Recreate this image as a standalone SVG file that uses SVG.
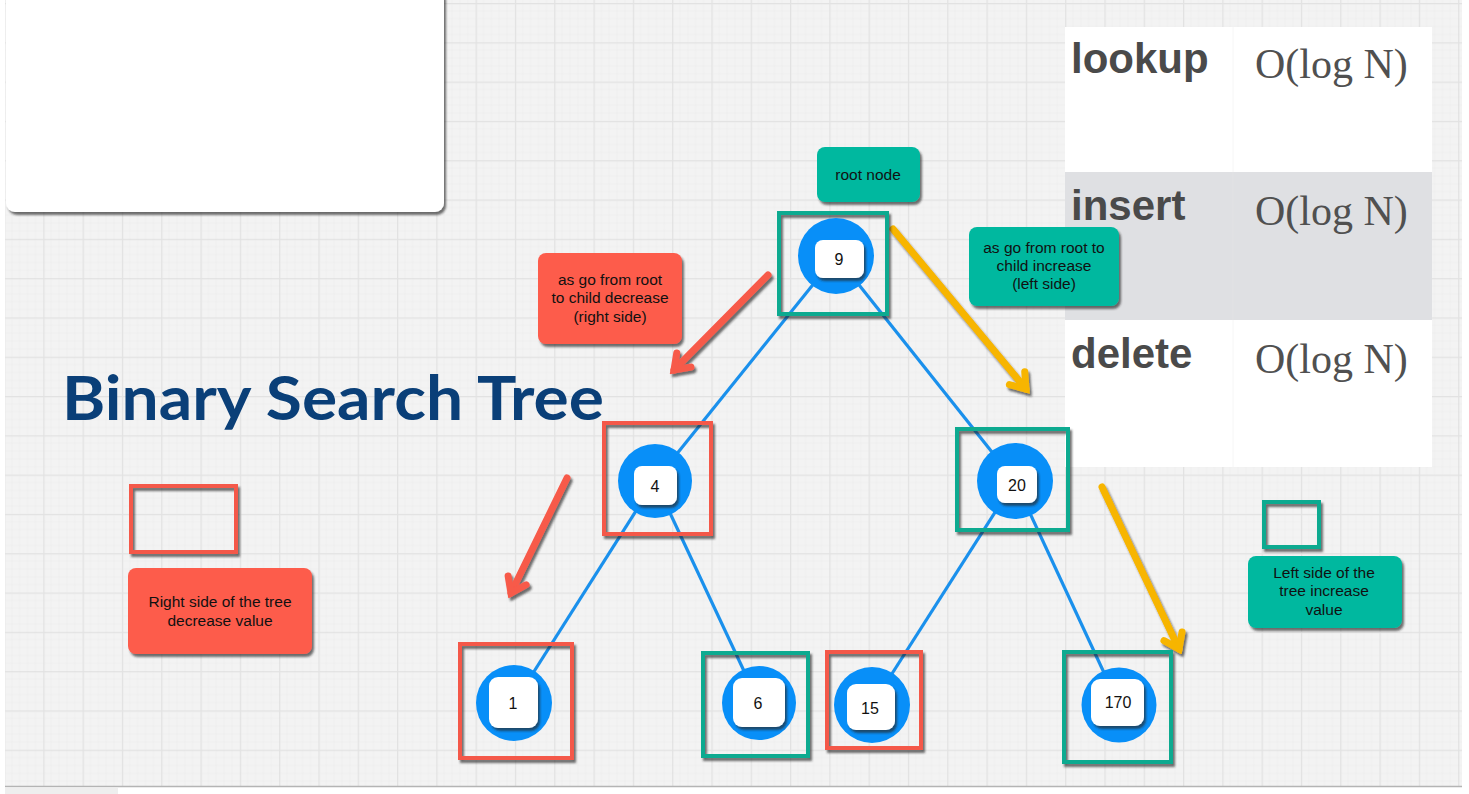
<svg xmlns="http://www.w3.org/2000/svg" width="1469" height="794" viewBox="0 0 1469 794">
<style>
.lbl{font-family:"Liberation Sans",Arial,sans-serif;font-size:15.5px;fill:#111;text-anchor:middle}
.num{font-family:"Liberation Sans",Arial,sans-serif;font-size:16px;fill:#111;text-anchor:middle;dominant-baseline:central}
.teal{fill:#00b89f}
.red{fill:#fd5b4c}
.frT{fill:none;stroke:#0aaa90;stroke-width:4}
.frR{fill:none;stroke:#f4584a;stroke-width:4}
.circ{fill:#088ff8}
.chip{fill:#fff}
.edge{stroke:#1a90ec;stroke-width:3.2;fill:none}
.arR{stroke:#f75a4a;stroke-width:7;fill:none;stroke-linecap:round}
.arY{stroke:#f7b500;stroke-width:7;fill:none;stroke-linecap:round}
.op{font-family:"Liberation Sans",Arial,sans-serif;font-weight:bold;font-size:42px;fill:#4a4a4a}
.cx{font-family:"Liberation Serif","Times New Roman",serif;font-size:42px;fill:#505050}
</style>
<defs>
<pattern id="grid" x="4" y="3" width="39.3" height="39.3" patternUnits="userSpaceOnUse">
<rect width="39.3" height="39.3" fill="#f3f3f3"/>
<path d="M0 7.86H39.3M0 15.72H39.3M0 23.58H39.3M0 31.44H39.3M7.86 0V39.3M15.72 0V39.3M23.58 0V39.3M31.44 0V39.3" stroke="#ececec" stroke-width="0.6"/>
<path d="M0 0.5H39.3M0.5 0V39.3" stroke="#e2e2e2" stroke-width="1.5"/>
</pattern>
<filter id="sh" x="-20%" y="-20%" width="150%" height="150%">
<feDropShadow dx="2" dy="3" stdDeviation="1.2" flood-color="#222" flood-opacity="0.65"/>
</filter>
<marker id="hR" markerUnits="userSpaceOnUse" viewBox="-20 -14 26 28" refX="0" refY="0" markerWidth="26" markerHeight="28" orient="auto">
<polyline points="-14,-10 0,0 -14,10" fill="none" stroke="#f75a4a" stroke-width="7" stroke-linejoin="miter" stroke-linecap="round"/>
</marker>
<marker id="hY" markerUnits="userSpaceOnUse" viewBox="-20 -14 26 28" refX="0" refY="0" markerWidth="26" markerHeight="28" orient="auto">
<polyline points="-14,-10 0,0 -14,10" fill="none" stroke="#f7b500" stroke-width="7" stroke-linejoin="miter" stroke-linecap="round"/>
</marker>
</defs>

<rect width="1469" height="794" fill="#ffffff"/>
<rect x="5" y="0" width="1457" height="786" fill="url(#grid)"/>
<line x1="5" y1="786.5" x2="1462" y2="786.5" stroke="#b4b4b4" stroke-width="1.5"/>
<rect x="5" y="788" width="113" height="6" fill="#eeeeee"/>

<g id="top-panel">
<rect x="6" y="-12" width="438" height="224" rx="9" fill="#fff" filter="url(#sh)"/>
</g>

<g id="complexity-table">
<rect x="1065" y="27" width="367" height="440" fill="#fff"/>
<rect x="1065" y="172" width="367" height="148" fill="#dfe0e3"/>
<line x1="1233" y1="27" x2="1233" y2="467" stroke="#e6e6e6" stroke-width="1" opacity="0.35"/>
<text class="op" x="1071" y="73">lookup</text>
<text class="cx" x="1255" y="78">O(log N)</text>
<text class="op" x="1071" y="220">insert</text>
<text class="cx" x="1255" y="225">O(log N)</text>
<text class="op" x="1071" y="368">delete</text>
<text class="cx" x="1255" y="373">O(log N)</text>
</g>

<g id="title">
<text x="62" y="420" textLength="542" lengthAdjust="spacingAndGlyphs" style="font-family:Lato,'Open Sans',sans-serif;font-weight:bold;font-size:62px;fill:#0a3f78">Binary Search Tree</text>
</g>

<g id="connectors">
<line class="edge" x1="836" y1="256" x2="655" y2="481"/>
<line class="edge" x1="836" y1="256" x2="1015" y2="481"/>
<line class="edge" x1="655" y1="481" x2="514" y2="703"/>
<line class="edge" x1="655" y1="481" x2="759" y2="703"/>
<line class="edge" x1="1015" y1="481" x2="872" y2="705"/>
<line class="edge" x1="1015" y1="481" x2="1119" y2="705"/>
<g filter="url(#sh)">
<line class="arR" x1="768" y1="275" x2="674" y2="370" marker-end="url(#hR)"/>
<line class="arR" x1="567" y1="478" x2="511" y2="593" marker-end="url(#hR)"/>
<line class="arY" x1="893" y1="229" x2="1026" y2="389" marker-end="url(#hY)"/>
<line class="arY" x1="1102" y1="487" x2="1179" y2="649" marker-end="url(#hY)"/>
</g>
</g>

<g id="note-root">
<rect class="teal" x="817" y="147" width="103" height="55" rx="8" filter="url(#sh)"/>
<text class="lbl" x="868" y="180">root node</text>
</g>

<g id="note-increase">
<rect class="teal" x="969" y="227" width="150" height="79" rx="8" filter="url(#sh)"/>
<text class="lbl" x="1044" y="253">as go from root to</text>
<text class="lbl" x="1044" y="271">child increase</text>
<text class="lbl" x="1044" y="289">(left side)</text>
</g>

<g id="note-decrease">
<rect class="red" x="538" y="253" width="144" height="91" rx="8" filter="url(#sh)"/>
<text class="lbl" x="610" y="285">as go from root</text>
<text class="lbl" x="610" y="303">to child decrease</text>
<text class="lbl" x="610" y="322">(right side)</text>
</g>

<g id="legend-red">
<rect class="frR" x="131" y="486" width="105" height="66" filter="url(#sh)"/>
<rect class="red" x="128" y="568" width="184" height="86" rx="8" filter="url(#sh)"/>
<text class="lbl" x="220" y="607">Right side of the tree</text>
<text class="lbl" x="220" y="626">decrease value</text>
</g>

<g id="legend-green">
<rect class="frT" x="1264" y="502" width="55" height="45" filter="url(#sh)"/>
<rect class="teal" x="1248" y="556" width="154" height="72" rx="8" filter="url(#sh)"/>
<text class="lbl" x="1324" y="578">Left side of the</text>
<text class="lbl" x="1324" y="596">tree increase</text>
<text class="lbl" x="1324" y="615">value</text>
</g>

<g id="node-9">
<rect class="frT" x="779" y="213" width="108" height="101" filter="url(#sh)"/>
<circle class="circ" cx="836" cy="256" r="38"/>
<rect class="chip" x="815" y="240" width="49" height="38" rx="8" filter="url(#sh)"/>
<text class="num" x="839" y="259">9</text>
</g>

<g id="node-4">
<rect class="frR" x="604" y="423" width="107" height="111" filter="url(#sh)"/>
<circle class="circ" cx="655" cy="481" r="37"/>
<rect class="chip" x="634" y="466" width="43" height="39" rx="8" filter="url(#sh)"/>
<text class="num" x="655" y="486">4</text>
</g>

<g id="node-20">
<rect class="frT" x="957" y="429" width="111" height="101" filter="url(#sh)"/>
<circle class="circ" cx="1015" cy="481" r="38"/>
<rect class="chip" x="997" y="466" width="40" height="37" rx="8" filter="url(#sh)"/>
<text class="num" x="1017" y="485">20</text>
</g>

<g id="node-1">
<rect class="frR" x="460" y="644" width="112" height="114" filter="url(#sh)"/>
<circle class="circ" cx="514" cy="703" r="38"/>
<rect class="chip" x="489" y="677" width="49" height="51" rx="9" filter="url(#sh)"/>
<text class="num" x="513" y="703">1</text>
</g>

<g id="node-6">
<rect class="frT" x="703" y="653" width="105" height="103" filter="url(#sh)"/>
<circle class="circ" cx="759" cy="703" r="37"/>
<rect class="chip" x="733" y="678" width="52" height="49" rx="9" filter="url(#sh)"/>
<text class="num" x="758" y="703">6</text>
</g>

<g id="node-15">
<rect class="frR" x="827" y="652" width="94" height="96" filter="url(#sh)"/>
<circle class="circ" cx="872" cy="705" r="38"/>
<rect class="chip" x="847" y="684" width="48" height="46" rx="9" filter="url(#sh)"/>
<text class="num" x="870" y="708">15</text>
</g>

<g id="node-170">
<rect class="frT" x="1064" y="652" width="107" height="110" filter="url(#sh)"/>
<circle class="circ" cx="1119" cy="705" r="37.5"/>
<rect class="chip" x="1091" y="679" width="53" height="47" rx="9" filter="url(#sh)"/>
<text class="num" x="1118" y="702">170</text>
</g>
</svg>
